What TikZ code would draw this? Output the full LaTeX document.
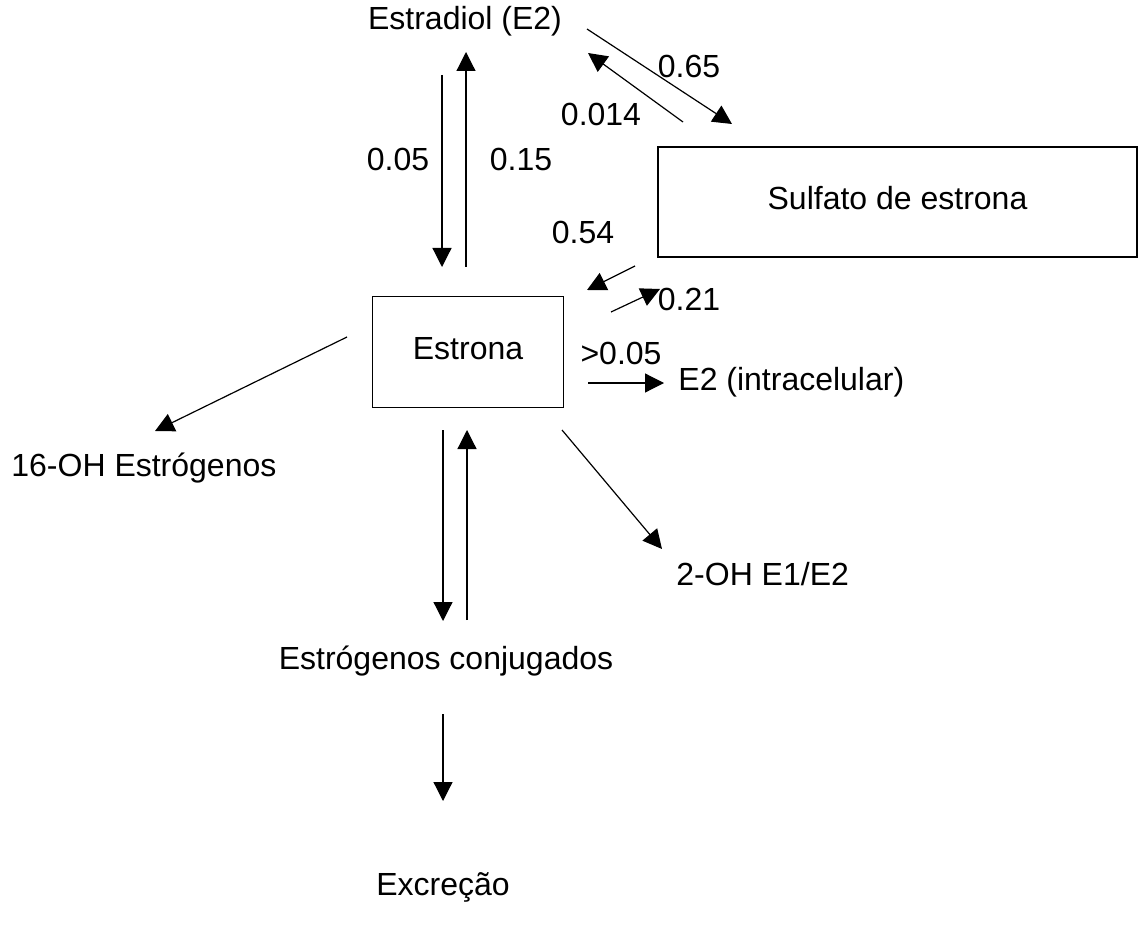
\documentclass[tikz,border=0pt]{standalone}
\usepackage{fontspec}
\setmainfont{Liberation Sans}
\usetikzlibrary{arrows.meta}

\begin{document}
\begin{tikzpicture}[
  x=0.5pt, y=-0.5pt,
  font=\fontsize{16}{19}\selectfont,
  txt/.style={inner sep=0pt, text height=0.716em, text depth=0pt},
  box/.style={draw, line width=0.7pt, inner sep=0pt, text height=0.716em, text depth=0pt},
  arrow/.style={-{Triangle[length=9.5pt, width=9.5pt]}, line width=0.6pt}
]
\useasboundingbox (0,0) rectangle (1140,936);

% compartments
\node[box, minimum width=95.5pt, minimum height=55.5pt] (estrona) at (468,352) {Estrona};
\node[box, minimum width=239.5pt, minimum height=55pt] (sulfato) at (897.5,202) {Sulfato de estrona};

% metabolites
\node[txt] (estradiol) at (465,22) {Estradiol (E2)};
\node[txt, anchor=west] (intra) at (678,383) {E2 (intracelular)};
\node[txt, anchor=west] (oh16) at (11,469) {16-OH Estrógenos};
\node[txt, anchor=west] (oh2) at (676,578) {2-OH E1/E2};
\node[txt] (conjug) at (446,662) {Estrógenos conjugados};
\node[txt] (excrecao) at (443,888) {Excreção};

% rate labels
\node[txt] (k005) at (398,163) {0.05};
\node[txt] (k015) at (521,163) {0.15};
\node[txt] (k065) at (689,70) {0.65};
\node[txt] (k0014) at (601,118) {0.014};
\node[txt] (k054) at (583,236) {0.54};
\node[txt] (k021) at (689,303) {0.21};
\node[txt] (kgt005) at (621,357) {>0.05};

% arrow ends
\coordinate (e2dA) at (442,75);   \coordinate (e2dB) at (442,267);
\coordinate (e1uA) at (466,267);  \coordinate (e1uB) at (466,52);
\coordinate (sulA) at (587,29);   \coordinate (sulB) at (732,124);
\coordinate (e2sA) at (683,122);  \coordinate (e2sB) at (588,53);
\coordinate (e1sA) at (635,266);  \coordinate (e1sB) at (587,290);
\coordinate (se1A) at (611,312);  \coordinate (se1B) at (660,289);
\coordinate (intA) at (588,383);  \coordinate (intB) at (664,383);
\coordinate (o16A) at (347,337);  \coordinate (o16B) at (155,431);
\coordinate (o2A) at (562,430);   \coordinate (o2B) at (662,549);
\coordinate (cjdA) at (443,430);  \coordinate (cjdB) at (443,621);
\coordinate (cjuA) at (467,620);  \coordinate (cjuB) at (467,430);
\coordinate (excA) at (443,714);  \coordinate (excB) at (443,801);

\draw[arrow] (e2dA) -- (e2dB);
\draw[arrow] (e1uA) -- (e1uB);
\draw[arrow] (sulA) -- (sulB);
\draw[arrow] (e2sA) -- (e2sB);
\draw[arrow] (e1sA) -- (e1sB);
\draw[arrow] (se1A) -- (se1B);
\draw[arrow] (intA) -- (intB);
\draw[arrow] (o16A) -- (o16B);
\draw[arrow] (o2A) -- (o2B);
\draw[arrow] (cjdA) -- (cjdB);
\draw[arrow] (cjuA) -- (cjuB);
\draw[arrow] (excA) -- (excB);

\end{tikzpicture}
\end{document}
